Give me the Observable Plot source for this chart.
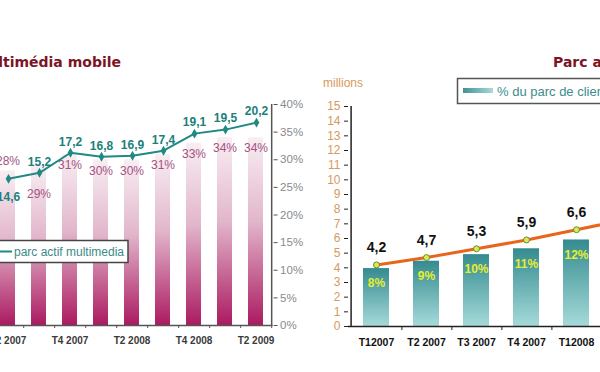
<!DOCTYPE html>
<html><head><meta charset="utf-8">
<script src="https://cdn.jsdelivr.net/npm/d3@7"></script>
<script src="https://cdn.jsdelivr.net/npm/@observablehq/plot@0.6"></script>
<style>
html,body{margin:0;padding:0;background:#fff;}
#wrap{position:relative;width:600px;height:372px;overflow:hidden;background:#fff;}
#wrap > svg, #wrap > figure{position:absolute;top:0;margin:0;}
</style></head><body>
<svg width="0" height="0" style="position:absolute"><defs>
<linearGradient id="pinkGrad" x1="0" y1="0" x2="0" y2="1">
 <stop offset="0" stop-color="#f8eef3"/><stop offset="0.45" stop-color="#e2b6cb"/><stop offset="1" stop-color="#ab1a61"/>
</linearGradient>
<linearGradient id="tealGrad" x1="0" y1="0" x2="0" y2="1">
 <stop offset="0" stop-color="#348b8f"/><stop offset="1" stop-color="#a6dada"/>
</linearGradient>
<linearGradient id="tealSwatch" x1="0" y1="0" x2="1" y2="0">
 <stop offset="0" stop-color="#3f9294"/><stop offset="1" stop-color="#a9dada"/>
</linearGradient>
</defs></svg>
<div id="wrap"></div>
<script>
// ---------- data: left chart ----------
const leftQuarters = ["T2 2007","T3 2007","T4 2007","T1 2008","T2 2008","T3 2008","T4 2008","T1 2009","T2 2009"];
const leftShare = [28, 29, 31, 30, 30, 31, 33, 34, 34];            // % (bars)
const leftParc = [14.6, 15.2, 17.2, 16.8, 16.9, 17.4, 19.1, 19.5, 20.2]; // parc actif multimedia (line)
const leftTickLabels = ["T2 2007","T4 2007","T2 2008","T4 2008","T2 2009"];
const leftPctTicks = [0, 5, 10, 15, 20, 25, 30, 35, 40];
// ---------- data: right chart ----------
const rightQuarters = ["T12007","T2 2007","T3 2007","T4 2007","T12008","T2 2008"];
const rightBars = [3.95, 4.45, 4.9, 5.3, 5.9];   // millions (bars)
const rightShare = [8, 9, 10, 11, 12];            // % du parc de clients
const rightParc = [4.2, 4.7, 5.3, 5.9, 6.6, 7.3]; // millions (line)
const rightTicks = [0,1,2,3,4,5,6,7,8,9,10,11,12,13,14,15];

const fmt = v => String(v).replace(".", ",");
const wrap = document.getElementById("wrap");
const FONT = "Liberation Sans, Arial, sans-serif";

// ---------- left chart ----------
const leftData = leftQuarters.map((q, i) => ({q, share: leftShare[i] / 100, parc: leftParc[i]}));
const LW = 350, LmL = 30.4, LmR = 37.4, LmT = 104, LmB = 47;
const Lstep = (LW - LmL - LmR) / leftQuarters.length;
const leftX = {domain: leftQuarters, paddingInner: 0.52, paddingOuter: 0.26};
const pctAbove = new Set(["T2 2007"]);
const pctBelow = new Set(["T3 2007"]);

const leftBars = Plot.plot({
  width: LW, height: 372, marginLeft: LmL, marginRight: LmR, marginTop: LmT, marginBottom: LmB,
  x: {...leftX, axis: null}, y: {domain: [0, 0.4], axis: null},
  style: {background: "transparent", fontFamily: FONT},
  marks: [
    Plot.barY(leftData, {x: "q", y: "share", fill: "url(#pinkGrad)"}),
    Plot.ruleY([0], {stroke: "#555", strokeWidth: 1.5}),
    Plot.ruleX([leftQuarters[leftQuarters.length - 1]], {x: d => d, dx: Lstep / 2, y1: 0, y2: 0.4, stroke: "#555", strokeWidth: 1.5}),
    Plot.ruleX(leftQuarters, {x: d => d, dx: Lstep / 2, y1: 0, y2: 0, insetBottom: -3, stroke: "#555"}),
    Plot.axisY({anchor: "right", label: null, ticks: leftPctTicks.map(d => d / 100), tickFormat: d => Math.round(d * 100) + "%",
      tickSize: 4, tickPadding: 3, fontSize: 11.5, fill: "#8a8a8a", stroke: "#555"}),
    Plot.axisX({label: null, ticks: leftTickLabels, tickSize: 0, tickPadding: 11, fontSize: 10, fontWeight: "bold", fill: "#3a3a3a"}),
    Plot.text(leftData.filter(d => !pctAbove.has(d.q) && !pctBelow.has(d.q)), {x: "q", y: "share", text: d => Math.round(d.share * 100) + "%", dy: 11, fill: "#a35282", fontSize: 12}),
    Plot.text(leftData.filter(d => pctAbove.has(d.q)), {x: "q", y: "share", text: d => Math.round(d.share * 100) + "%", dy: -10, fill: "#a35282", fontSize: 12}),
    Plot.text(leftData.filter(d => pctBelow.has(d.q)), {x: "q", y: "share", text: d => Math.round(d.share * 100) + "%", dy: 29, fill: "#a35282", fontSize: 12})
  ]
});
leftBars.style.left = "-40px";
wrap.appendChild(leftBars);

const labelBelow = new Set(["T2 2007"]);
const leftLine = Plot.plot({
  width: LW, height: 372, marginLeft: LmL, marginRight: LmR, marginTop: LmT, marginBottom: LmB,
  x: {...leftX, axis: null}, y: {domain: [0, 22], axis: null},
  style: {background: "transparent", fontFamily: FONT},
  marks: [
    Plot.line(leftData, {x: "q", y: "parc", stroke: "#1f8a82", strokeWidth: 2}),
    Plot.dot(leftData, {x: "q", y: "parc", r: 3, symbol: "diamond", fill: "#1f8a82"}),
    Plot.text(leftData.filter(d => !labelBelow.has(d.q)), {x: "q", y: "parc", text: d => fmt(d.parc), dy: -11, fill: "#1b7f7a", fontSize: 12, fontWeight: "bold"}),
    Plot.text(leftData.filter(d => labelBelow.has(d.q)), {x: "q", y: "parc", text: d => fmt(d.parc), dy: 18, fill: "#1b7f7a", fontSize: 12, fontWeight: "bold"})
  ]
});
leftLine.style.left = "-40px";
wrap.appendChild(leftLine);

// ---------- right chart ----------
const rightBarData = rightBars.map((v, i) => ({q: rightQuarters[i], v, share: rightShare[i]}));
const rightLineData = rightParc.map((v, i) => ({q: rightQuarters[i], v}));
const RW = 400, RmL = 48, RmR = 47.2, RmT = 106, RmB = 46;
const Rstep = (RW - RmL - RmR) / rightQuarters.length;

const right = Plot.plot({
  width: RW, height: 372, marginLeft: RmL, marginRight: RmR, marginTop: RmT, marginBottom: RmB,
  x: {domain: rightQuarters, paddingInner: 0.49, paddingOuter: 0.245, axis: null},
  y: {domain: [0, 15], axis: null},
  style: {background: "transparent", fontFamily: FONT},
  marks: [
    Plot.barY(rightBarData, {x: "q", y: "v", fill: "url(#tealGrad)"}),
    Plot.ruleY([0], {stroke: "#222", strokeWidth: 1.5}),
    Plot.ruleX([rightQuarters[0]], {x: d => d, dx: -Rstep / 2, y1: 0, y2: 15, stroke: "#222", strokeWidth: 1.5}),
    Plot.ruleX(rightQuarters, {x: d => d, dx: Rstep / 2, y1: 0, y2: 0, insetBottom: -4, stroke: "#222"}),
    Plot.axisY({anchor: "left", label: null, ticks: rightTicks, tickSize: 4, tickPadding: 4, fontSize: 12, fill: "#d69a5c", stroke: "#222"}),
    Plot.axisX({label: null, tickSize: 0, tickPadding: 12, fontSize: 10.5, fontWeight: "bold", fill: "#111"}),
    Plot.text(rightBarData, {x: "q", y: "v", text: d => d.share + "%", dy: 15, fill: "#e6ee30", fontSize: 12, fontWeight: "bold"}),
    Plot.line(rightLineData, {x: "q", y: "v", stroke: "#e8661c", strokeWidth: 3}),
    Plot.dot(rightLineData, {x: "q", y: "v", r: 3, fill: "#d8ea5a", stroke: "#6a8a2a", strokeWidth: 1}),
    Plot.text(rightLineData, {x: "q", y: "v", text: d => fmt(d.v), dy: -17, fill: "#111", fontSize: 14, fontWeight: "bold"})
  ]
});
right.style.left = "300px";
wrap.appendChild(right);

// ---------- overlay: titles, unit label, legends ----------
const ov = d3.create("svg").attr("width", 600).attr("height", 372).style("left", "0px");
const tf = "DejaVu Sans, Verdana, sans-serif";
ov.append("text").attr("x", 121).attr("y", 67).attr("text-anchor", "end")
  .attr("font-family", tf).attr("font-weight", "bold").attr("font-size", 14).attr("fill", "#7b1526")
  .text("multimédia mobile");
ov.append("text").attr("x", 553).attr("y", 67)
  .attr("font-family", tf).attr("font-weight", "bold").attr("font-size", 14).attr("fill", "#7b1526")
  .text("Parc actif");
ov.append("text").attr("x", 323).attr("y", 87).attr("font-family", FONT).attr("font-size", 12).attr("fill", "#d69a5c").text("millions");
// left legend
ov.append("rect").attr("x", -20).attr("y", 240.5).attr("width", 148).attr("height", 22).attr("fill", "#fff").attr("stroke", "#444").attr("stroke-width", 1.5);
ov.append("line").attr("x1", -10).attr("x2", 12).attr("y1", 251.5).attr("y2", 251.5).attr("stroke", "#1f8a82").attr("stroke-width", 2);
ov.append("text").attr("x", 14).attr("y", 256).attr("font-family", FONT).attr("font-size", 12).attr("fill", "#3a8b88").text("parc actif multimedia");
// right legend
ov.append("rect").attr("x", 457.5).attr("y", 78.5).attr("width", 170).attr("height", 25).attr("fill", "#fff").attr("stroke", "#555").attr("stroke-width", 1.5);
ov.append("rect").attr("x", 463).attr("y", 88).attr("width", 30).attr("height", 5).attr("fill", "url(#tealSwatch)");
ov.append("text").attr("x", 497).attr("y", 96).attr("font-family", FONT).attr("font-size", 13).attr("fill", "#3d8c8c").text("% du parc de clients");
wrap.appendChild(ov.node());
</script>
</body></html>
